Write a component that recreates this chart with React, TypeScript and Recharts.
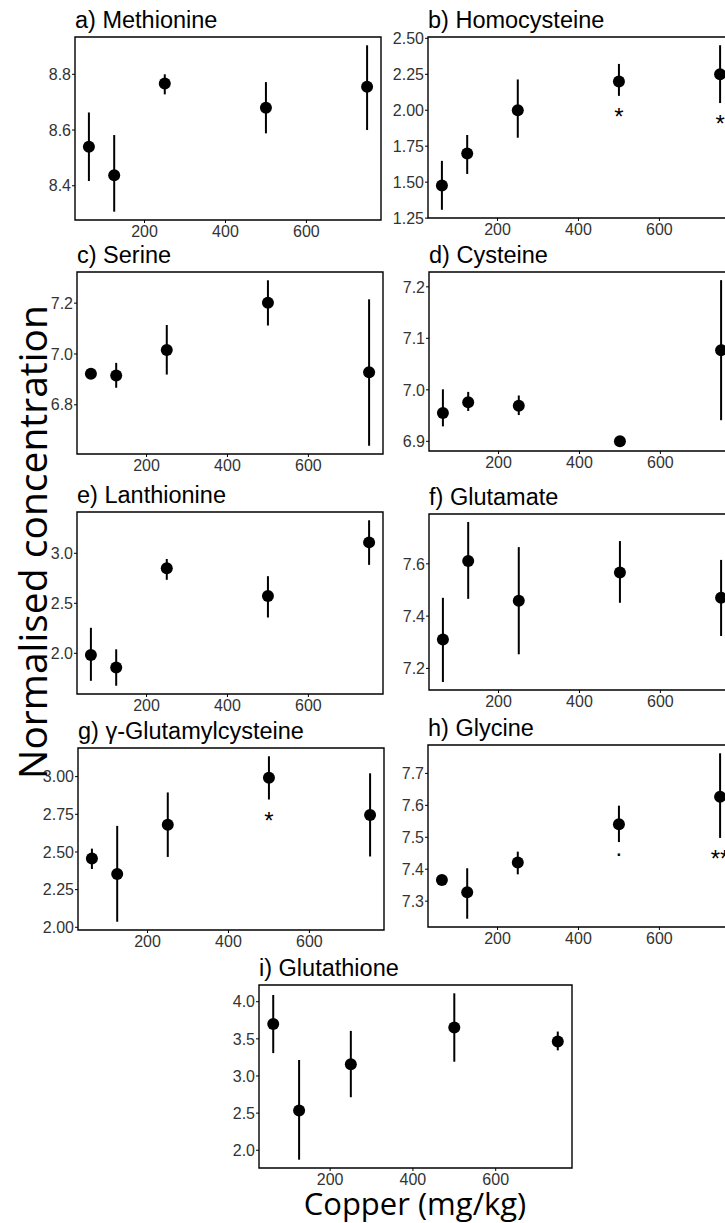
import { ComposedChart, Scatter, ErrorBar, XAxis, YAxis, ReferenceArea } from 'recharts';

// copper dose levels (mg/kg) shared by every panel
const copper = [62.5, 125, 250, 500, 750];
const copperTicks = [200, 400, 600];

// a) Methionine
const methionineMean = [8.54, 8.438, 8.767, 8.68, 8.755];
const methionineLow = [8.417, 8.307, 8.728, 8.588, 8.6];
const methionineHigh = [8.663, 8.582, 8.8, 8.772, 8.904];
const methionineTicks = [8.4, 8.6, 8.8];

// b) Homocysteine
const homocysteineMean = [1.476, 1.699, 2.0, 2.2, 2.25];
const homocysteineLow = [1.308, 1.557, 1.809, 2.1, 2.05];
const homocysteineHigh = [1.648, 1.828, 2.214, 2.322, 2.452];
const homocysteineSig = ['', '', '', '*', '*'];
const homocysteineTicks = [1.25, 1.5, 1.75, 2.0, 2.25, 2.5];

// c) Serine
const serineMean = [6.922, 6.915, 7.016, 7.202, 6.928];
const serineLow = [6.915, 6.867, 6.919, 7.112, 6.639];
const serineHigh = [6.929, 6.965, 7.114, 7.29, 7.215];
const serineTicks = [6.8, 7.0, 7.2];

// d) Cysteine
const cysteineMean = [6.955, 6.976, 6.969, 6.9, 7.077];
const cysteineLow = [6.929, 6.959, 6.951, 6.897, 6.941];
const cysteineHigh = [7.001, 6.996, 6.989, 6.903, 7.213];
const cysteineTicks = [6.9, 7.0, 7.1, 7.2];

// e) Lanthionine
const lanthionineMean = [1.983, 1.858, 2.851, 2.573, 3.109];
const lanthionineLow = [1.725, 1.676, 2.735, 2.358, 2.884];
const lanthionineHigh = [2.255, 2.04, 2.943, 2.771, 3.33];
const lanthionineTicks = [2.0, 2.5, 3.0];

// f) Glutamate
const glutamateMean = [7.311, 7.611, 7.459, 7.567, 7.47];
const glutamateLow = [7.148, 7.466, 7.254, 7.451, 7.324];
const glutamateHigh = [7.47, 7.76, 7.664, 7.687, 7.615];
const glutamateTicks = [7.2, 7.4, 7.6];

// g) γ-Glutamylcysteine
const gluCysMean = [2.456, 2.354, 2.68, 2.993, 2.745];
const gluCysLow = [2.387, 2.037, 2.467, 2.848, 2.47];
const gluCysHigh = [2.522, 2.673, 2.895, 3.135, 3.022];
const gluCysSig = ['', '', '', '*', ''];
const gluCysTicks = [2.0, 2.25, 2.5, 2.75, 3.0];

// h) Glycine
const glycineMean = [7.366, 7.328, 7.421, 7.541, 7.627];
const glycineLow = [7.36, 7.245, 7.384, 7.485, 7.498];
const glycineHigh = [7.372, 7.403, 7.455, 7.599, 7.763];
const glycineSig = ['', '', '', '.', '**'];
const glycineTicks = [7.3, 7.4, 7.5, 7.6, 7.7];

// i) Glutathione
const glutathioneMean = [3.701, 2.535, 3.157, 3.652, 3.464];
const glutathioneLow = [3.308, 1.873, 2.714, 3.192, 3.345];
const glutathioneHigh = [4.09, 3.215, 3.607, 4.113, 3.598];
const glutathioneTicks = [2.0, 2.5, 3.0, 3.5, 4.0];

const TICK_FONT = '"Liberation Sans", Arial, sans-serif';
const LABEL_FONT = '"Open Sans", "Noto Sans", sans-serif';

const YW = 50;
const XH = 30;
const MT = 12;
const MR = 4;

// ggplot style 5% padding
function expand(lo: number, hi: number): [number, number] {
  const r = hi - lo;
  return [lo - 0.05 * r, hi + 0.05 * r];
}

const xDomain = expand(Math.min(...copper), Math.max(...copper));

type Box = { left: number; top: number; width: number; height: number };

const panels = [
  { key: 'a', title: 'a) Methionine', mean: methionineMean, low: methionineLow, high: methionineHigh, ticks: methionineTicks, digits: 1, box: { left: 75, top: 37, width: 306, height: 183 } },
  { key: 'b', title: 'b) Homocysteine', mean: homocysteineMean, low: homocysteineLow, high: homocysteineHigh, sig: homocysteineSig, ticks: homocysteineTicks, digits: 2, box: { left: 428, top: 37, width: 306, height: 181 } },
  { key: 'c', title: 'c) Serine', mean: serineMean, low: serineLow, high: serineHigh, ticks: serineTicks, digits: 1, box: { left: 77, top: 272, width: 306, height: 182 } },
  { key: 'd', title: 'd) Cysteine', mean: cysteineMean, low: cysteineLow, high: cysteineHigh, ticks: cysteineTicks, digits: 1, box: { left: 429, top: 272, width: 306, height: 179 } },
  { key: 'e', title: 'e) Lanthionine', mean: lanthionineMean, low: lanthionineLow, high: lanthionineHigh, ticks: lanthionineTicks, digits: 1, box: { left: 77, top: 512, width: 306, height: 182 } },
  { key: 'f', title: 'f) Glutamate', mean: glutamateMean, low: glutamateLow, high: glutamateHigh, ticks: glutamateTicks, digits: 1, box: { left: 429, top: 514, width: 306, height: 176 } },
  { key: 'g', title: 'g) γ-Glutamylcysteine', mean: gluCysMean, low: gluCysLow, high: gluCysHigh, sig: gluCysSig, ticks: gluCysTicks, digits: 2, box: { left: 78, top: 748, width: 306, height: 182 } },
  { key: 'h', title: 'h) Glycine', mean: glycineMean, low: glycineLow, high: glycineHigh, sig: glycineSig, ticks: glycineTicks, digits: 1, box: { left: 428, top: 745, width: 306, height: 182 } },
  { key: 'i', title: 'i) Glutathione', mean: glutathioneMean, low: glutathioneLow, high: glutathioneHigh, ticks: glutathioneTicks, digits: 1, box: { left: 259, top: 985, width: 313, height: 183 } },
];

const Dot = (props: any) => <circle cx={props.cx} cy={props.cy} r={6} fill="#000" />;

// significance marks sit a fixed distance under the lower end of the error bar
const SigLabel = (props: any) => {
  const s = props.payload.sig;
  const off = s === '.' ? 14 : 29;
  return (
    <text x={props.cx} y={props.cy + off} textAnchor="middle" fontSize={24} fontFamily={TICK_FONT} fill="#000">
      {s}
    </text>
  );
};

type PanelProps = {
  mean: number[];
  low: number[];
  high: number[];
  sig?: string[];
  ticks: number[];
  digits: number;
  box: Box;
};

function Panel({ mean, low, high, sig, ticks, digits, box }: PanelProps) {
  const data = copper.map((x, i) => ({
    x,
    y: mean[i],
    err: [mean[i] - low[i], high[i] - mean[i]],
  }));
  const sigData = copper
    .map((x, i) => ({ x, y: low[i], sig: sig ? sig[i] : '' }))
    .filter((d) => d.sig);
  const yDomain = expand(Math.min(...low), Math.max(...high));

  return (
    <div style={{ position: 'absolute', left: box.left - YW, top: box.top - MT }}>
      <ComposedChart
        width={YW + box.width + MR}
        height={MT + box.height + XH}
        margin={{ top: MT, right: MR, left: 0, bottom: 0 }}
      >
        <XAxis
          type="number"
          dataKey="x"
          domain={xDomain}
          ticks={copperTicks}
          allowDataOverflow
          interval={0}
          height={XH}
          tickSize={3}
          tickMargin={3}
          axisLine={false}
          tickLine={{ stroke: '#000' }}
          tick={{ fill: '#333', fontSize: 16, fontFamily: TICK_FONT }}
        />
        <YAxis
          type="number"
          dataKey="y"
          domain={yDomain}
          ticks={ticks}
          allowDataOverflow
          interval={0}
          width={YW}
          tickSize={3}
          tickMargin={1}
          axisLine={false}
          tickLine={{ stroke: '#000' }}
          tick={{ fill: '#333', fontSize: 16, fontFamily: TICK_FONT }}
          tickFormatter={(v: number) => v.toFixed(digits)}
        />
        <ReferenceArea
          x1={xDomain[0]}
          x2={xDomain[1]}
          y1={yDomain[0]}
          y2={yDomain[1]}
          fill="none"
          fillOpacity={0}
          stroke="#000"
          strokeWidth={1.4}
          ifOverflow="visible"
        />
        <Scatter data={data} isAnimationActive={false} shape={Dot}>
          <ErrorBar dataKey="err" direction="y" width={0} stroke="#000" strokeWidth={2} isAnimationActive={false} />
        </Scatter>
        {sigData.length > 0 && (
          <Scatter data={sigData} isAnimationActive={false} shape={SigLabel} />
        )}
      </ComposedChart>
    </div>
  );
}

export default function App() {
  return (
    <div
      style={{
        position: 'fixed',
        left: 0,
        top: 0,
        width: 725,
        height: 1223,
        overflow: 'hidden',
        background: '#fff',
      }}
    >
      {panels.map((p) => (
        <Panel key={p.key} {...p} />
      ))}
      <svg width={725} height={1223} style={{ position: 'absolute', left: 0, top: 0, pointerEvents: 'none' }}>
        {panels.map((p) => (
          <text key={p.key} x={p.box.left} y={p.box.top - 9} fontSize={23.5} fontFamily={TICK_FONT} fill="#000">
            {p.title}
          </text>
        ))}
        <text
          transform="translate(47, 542) rotate(-90)"
          textAnchor="middle"
          fontSize={39}
          fontFamily={LABEL_FONT}
          fill="#000"
        >
          Normalised concentration
        </text>
        <text x={415} y={1215} textAnchor="middle" fontSize={31} fontFamily={LABEL_FONT} fill="#000">
          Copper (mg/kg)
        </text>
      </svg>
    </div>
  );
}
